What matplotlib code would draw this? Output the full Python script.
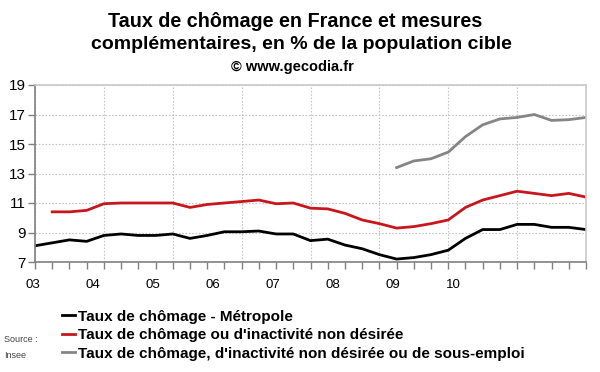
import numpy as np
import matplotlib
matplotlib.use("Agg")
import matplotlib.pyplot as plt
from matplotlib.ticker import MultipleLocator

plt.rcParams["font.family"] = ["Liberation Sans", "DejaVu Sans"]

# quarterly values, index 0 = 2002 T4 ... index 32 = 2010 T4
year_labels = ["03", "04", "05", "06", "07", "08", "09", "10"]
metropole = [8.1, 8.3, 8.5, 8.4, 8.8, 8.9, 8.8, 8.8, 8.9, 8.6, 8.8, 9.05,
             9.05, 9.1, 8.9, 8.9, 8.45, 8.55, 8.15, 7.9, 7.5, 7.2, 7.3, 7.5,
             7.8, 8.6, 9.2, 9.2, 9.55, 9.55, 9.35, 9.35, 9.2]
inactivite = [10.4, 10.4, 10.5, 10.95, 11.0, 11.0, 11.0, 11.0, 10.7, 10.9,
              11.0, 11.1, 11.2, 10.95, 11.0, 10.65, 10.6, 10.3, 9.85, 9.6,
              9.3, 9.4, 9.6, 9.85, 10.7, 11.2, 11.5, 11.8, 11.65, 11.5,
              11.65, 11.4]
sous_emploi = [13.4, 13.85, 14.0, 14.45, 15.5, 16.3, 16.7, 16.8, 17.0, 16.6,
               16.65, 16.8]

labels = ["Taux de chômage - Métropole",
          "Taux de chômage ou d'inactivité non désirée",
          "Taux de chômage, d'inactivité non désirée ou de sous-emploi"]
colors = ["black", "#c8161d", "#858585"]

n = len(metropole)
x_metro = np.arange(n)
x_inact = np.arange(n - len(inactivite), n)
x_sous = np.arange(n - len(sous_emploi), n)

fig = plt.figure(figsize=(6.0, 3.72), dpi=100)
ax = fig.add_axes([35 / 600, 1 - 262 / 372, 551 / 600, 177 / 372])

ax.plot(x_metro, metropole, color=colors[0], lw=2.0, label=labels[0])
ax.plot(x_inact, inactivite, color=colors[1], lw=2.0, label=labels[1])
ax.plot(x_sous, sous_emploi, color=colors[2], lw=2.0, label=labels[2])

ax.set_xlim(0, n - 1)
ax.set_ylim(7, 19)
ax.set_yticks(np.arange(7, 20, 2))
ax.xaxis.set_major_locator(MultipleLocator(4))
ax.xaxis.set_minor_locator(MultipleLocator(1))
ax.set_xticklabels([])
ax.grid(True, which="major", color="#c4c4c4", linestyle=(0, (1.5, 1.5)),
        lw=0.8)
ax.tick_params(axis="y", length=5, width=1, color="#808080", pad=1.5,
               labelsize=11)
ax.tick_params(axis="x", which="both", length=5, width=1, color="#808080")
for side in ["left", "bottom"]:
    ax.spines[side].set_color("#808080")
    ax.spines[side].set_linewidth(1.2)
for side in ["top", "right"]:
    ax.spines[side].set_color("#c8c8c8")
    ax.spines[side].set_linewidth(1.2)

# year labels as drawn in the original (not aligned on the ticks)
for i, lab in enumerate(year_labels):
    ax.text(-0.004 + i * 0.109, -0.13, lab, transform=ax.transAxes,
            ha="center", va="center", fontsize=9.5)

fig.text(0.492, 1 - 27 / 372, "Taux de chômage en France et mesures",
         ha="center", va="baseline", fontsize=14.2, fontweight="bold")
fig.text(0.502, 1 - 49 / 372, "complémentaires, en % de la population cible",
         ha="center", va="baseline", fontsize=14, fontweight="bold")
fig.text(0.487, 1 - 71 / 372, "© www.gecodia.fr",
         ha="center", va="baseline", fontsize=10.5, fontweight="bold")

fig.legend(loc="upper left", bbox_to_anchor=(54 / 600, 1 - 302 / 372),
           frameon=False, borderpad=0, handlelength=0.85, handletextpad=0.22,
           labelspacing=0.3, prop={"size": 11, "weight": "bold"})

fig.text(4 / 600, 1 - 339 / 372, "Source :", fontsize=6.5, color="#444444",
         va="center")
fig.text(4 / 600, 1 - 355 / 372, "Insee", fontsize=6.5, color="#444444",
         va="center")

fig.savefig("out.png", dpi=100)
